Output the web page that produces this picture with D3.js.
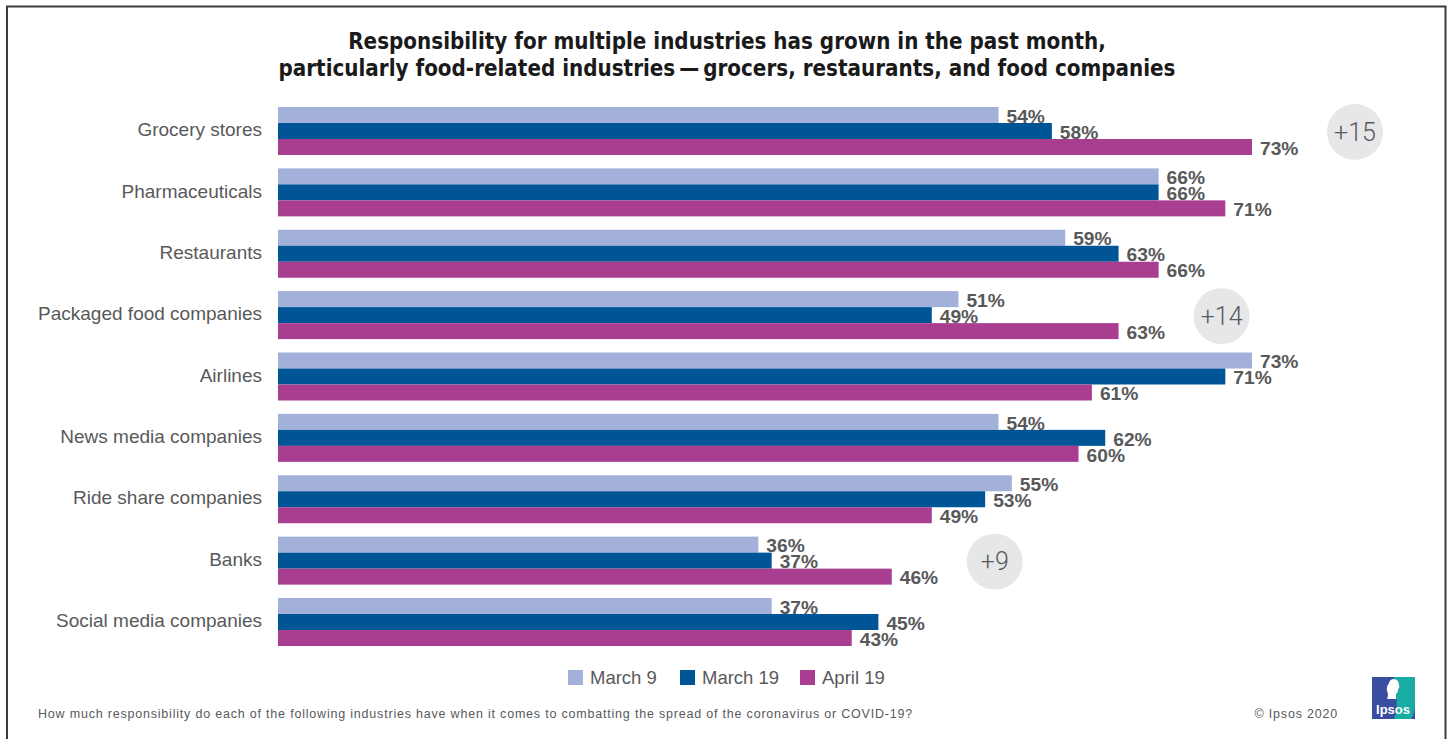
<!DOCTYPE html>
<html>
<head>
<meta charset="utf-8">
<script src="https://cdn.jsdelivr.net/npm/d3@7"></script>
<style>
  html, body { margin: 0; padding: 0; background: #fff; }
  svg { display: block; }
</style>
</head>
<body>
<div id="chart"></div>
<script>
// Industries, top to bottom
const categories = [
  "Grocery stores",
  "Pharmaceuticals",
  "Restaurants",
  "Packaged food companies",
  "Airlines",
  "News media companies",
  "Ride share companies",
  "Banks",
  "Social media companies"
];

// Survey waves
const seriesNames = ["March 9", "March 19", "April 19"];

// Share saying the industry has responsibility (%), per wave
const march9  = [54, 66, 59, 51, 73, 54, 55, 36, 37];
const march19 = [58, 66, 63, 49, 71, 62, 53, 37, 45];
const april19 = [73, 71, 66, 63, 61, 60, 49, 46, 43];

// Change callouts (March 9 -> April 19)
const calloutCats  = ["Grocery stores", "Packaged food companies", "Banks"];
const calloutTexts = ["+15", "+14", "+9"];

const titleLines = [
  "Responsibility for multiple industries has grown in the past month,",
  "particularly food-related industries\u2009\u2014\u2009grocers, restaurants, and food companies"
];
const questionText = "How much responsibility do each of the following industries have when it comes to combatting the spread of the coronavirus or COVID-19?";
const copyrightText = "\u00A9 Ipsos 2020";

const W = 1449, H = 739;
const colors = ["#a3b0da", "#005597", "#a93e91"];
const textGray = "#58595b";
const sansFont = "'Liberation Sans', Arial, sans-serif";

const svg = d3.select("#chart").append("svg")
  .attr("width", W).attr("height", H);

// Frame
svg.append("path")
  .attr("d", `M7,${H + 2} V6.5 H1445.5 V${H + 2}`)
  .attr("fill", "none")
  .attr("stroke", "#3a3a3a")
  .attr("stroke-width", 2);

// Title
svg.append("g").selectAll("text")
  .data(titleLines)
  .join("text")
  .attr("x", 727)
  .attr("y", (d, i) => 49 + i * 27)
  .attr("text-anchor", "middle")
  .attr("font-family", "'Liberation Sans Narrow', 'DejaVu Sans Condensed', sans-serif")
  .attr("font-weight", "bold")
  .attr("font-size", 22.2)
  .attr("fill", "#1a1a1a")
  .text(d => d);

// Scales
const x = d3.scaleLinear().domain([0, 73]).range([278, 1252]);
const groupStep = 61.375;
const y = d3.scaleBand()
  .domain(categories)
  .range([107, 107 + groupStep * categories.length]);
const ySub = d3.scaleBand()
  .domain(seriesNames)
  .range([0, 48]);

const rows = categories.map((c, i) => ({
  cat: c,
  values: [march9[i], march19[i], april19[i]]
}));

const groups = svg.append("g").selectAll("g")
  .data(rows)
  .join("g")
  .attr("transform", d => `translate(0,${y(d.cat)})`);

// Category labels
groups.append("text")
  .attr("x", 262)
  .attr("y", 22.5)
  .attr("dy", "0.35em")
  .attr("text-anchor", "end")
  .attr("font-family", sansFont)
  .attr("font-size", 19)
  .attr("fill", textGray)
  .text(d => d.cat);

const bars = groups.selectAll("g.bar")
  .data(d => d.values.map((v, j) => ({ v, s: seriesNames[j], j })))
  .join("g")
  .attr("class", "bar");

bars.append("rect")
  .attr("x", x(0))
  .attr("y", d => ySub(d.s))
  .attr("width", d => x(d.v) - x(0))
  .attr("height", ySub.bandwidth())
  .attr("fill", d => colors[d.j]);

bars.append("text")
  .attr("x", d => x(d.v) + 8)
  .attr("y", d => ySub(d.s) + ySub.bandwidth() / 2 + 1)
  .attr("dy", "0.35em")
  .attr("font-family", sansFont)
  .attr("font-weight", "bold")
  .attr("font-size", 19.2)
  .attr("fill", textGray)
  .text(d => d.v + "%");

// Change callouts
const callouts = svg.append("g").selectAll("g")
  .data(calloutCats.map((c, i) => ({ c, t: calloutTexts[i], v: april19[categories.indexOf(c)] })))
  .join("g")
  .attr("transform", d => `translate(${x(d.v) + 103},${y(d.c) + 25})`);

callouts.append("circle")
  .attr("r", 28)
  .attr("fill", "#e6e7e9");

callouts.append("text")
  .attr("text-anchor", "middle")
  .attr("dy", "0.35em")
  .attr("font-family", "Roboto, 'Liberation Sans', sans-serif")
  .attr("font-weight", 300)
  .attr("font-size", 25)
  .attr("fill", textGray)
  .text(d => d.t);

// Legend
const legendX = [568, 680, 800];
const legend = svg.append("g").selectAll("g")
  .data(seriesNames)
  .join("g")
  .attr("transform", (d, i) => `translate(${legendX[i]},670)`);

legend.append("rect")
  .attr("width", 15).attr("height", 15)
  .attr("fill", (d, i) => colors[i]);

legend.append("text")
  .attr("x", 22)
  .attr("y", 7.5)
  .attr("dy", "0.35em")
  .attr("font-family", sansFont)
  .attr("font-size", 18.5)
  .attr("fill", textGray)
  .text(d => d);

// Footer
svg.append("text")
  .attr("x", 38).attr("y", 718)
  .attr("font-family", sansFont)
  .attr("font-size", 12.5)
  .attr("letter-spacing", 0.8)
  .attr("fill", textGray)
  .text(questionText);

svg.append("text")
  .attr("x", 1338).attr("y", 718)
  .attr("text-anchor", "end")
  .attr("font-family", sansFont)
  .attr("font-size", 12.5)
  .attr("letter-spacing", 0.8)
  .attr("fill", textGray)
  .text(copyrightText);

// Ipsos logo
const logo = svg.append("g").attr("transform", "translate(1372,677)");
logo.append("rect").attr("width", 43).attr("height", 42).attr("fill", "#3a4ea1");
logo.append("path")
  .attr("d", "M22,0 H43 V30 Q42,38 39,42 H22 Q26,30 24,18 Q23,8 22,0 Z")
  .attr("fill", "#18aca5");
logo.append("path")
  .attr("d", "M17,6 Q18,2 22,2 Q27,3 27,8 Q28,11 26,12 Q26,16 24,17 L24,22 L15,22 Q17,18 15,14 Q14,10 17,6 Z")
  .attr("fill", "#ffffff");
logo.append("text")
  .attr("x", 21).attr("y", 37)
  .attr("text-anchor", "middle")
  .attr("font-family", "'Liberation Sans Narrow', sans-serif")
  .attr("font-weight", "bold")
  .attr("font-size", 13)
  .attr("fill", "#ffffff")
  .text("Ipsos");
</script>
</body>
</html>
